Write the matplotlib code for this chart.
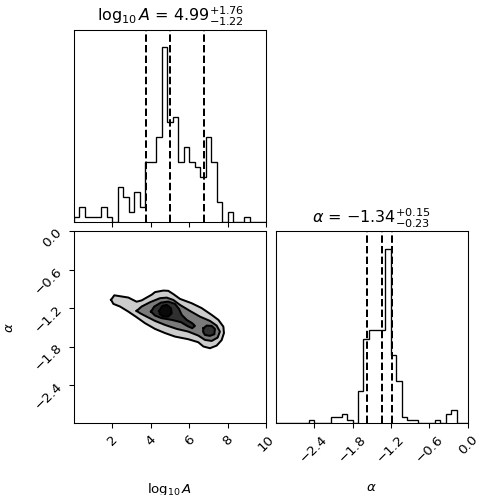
import numpy as np
import matplotlib
matplotlib.use('Agg')
import matplotlib.pyplot as plt

matplotlib.rcParams.update( {'font.size' : 10} )

# 1D marginals, 35 bins each (counts)
logA_range = (0.0, 10.0)
logA_counts = [1, 3, 1, 1, 1, 3, 1, 0, 7, 5, 2, 6, 3, 12, 12, 17, 35, 20, 21, 12,
               15, 12, 11, 9, 17, 12, 4, 0, 2, 0, 0, 1, 0, 0, 0]
logA_quantiles = [3.77, 4.99, 6.75]
logA_title = r"$\log_{10}A$ = $4.99_{-1.22}^{+1.76}$"

alpha_range = (-3.0, 0.0)
alpha_counts = [0, 0, 0, 0, 0, 0, 1, 0, 0, 0, 2, 2, 3, 1, 0, 10, 26, 29, 29, 29,
                54, 21, 13, 2, 1, 1, 0, 0, 0, 1, 0, 3, 4, 0, 0]
alpha_quantiles = [-1.57, -1.34, -1.19]
alpha_title = r"$\alpha$ = $-1.34_{-0.23}^{+0.15}$"

logA_ticks = [2, 4, 6, 8, 10]
alpha_ticks = [-2.4, -1.8, -1.2, -0.6, 0.0]

# 2D contours (log10A, alpha), outermost first
contour_0 = [(1.93, -1.07), (2.10, -1.00), (2.83, -1.035), (3.26, -1.10), (3.52, -1.08),
             (4.05, -0.99), (4.22, -0.95), (4.65, -0.926), (4.91, -0.93), (5.17, -0.98),
             (5.52, -1.056), (6.13, -1.124), (6.65, -1.20), (7.17, -1.306), (7.52, -1.384),
             (7.78, -1.49), (7.81, -1.59), (7.69, -1.70), (7.43, -1.786), (7.08, -1.827),
             (6.74, -1.80), (6.47, -1.733), (5.95, -1.686), (5.26, -1.645), (4.74, -1.59),
             (4.22, -1.525), (3.70, -1.436), (3.26, -1.342), (2.83, -1.255), (2.40, -1.176),
             (2.05, -1.134)]
contour_1 = [(3.26, -1.244), (3.52, -1.176), (3.96, -1.108), (4.48, -1.045), (4.83, -1.036),
             (5.17, -1.072), (5.52, -1.15), (6.04, -1.244), (6.56, -1.333), (7.08, -1.40),
             (7.43, -1.473), (7.60, -1.567), (7.48, -1.661), (7.17, -1.713), (6.82, -1.697),
             (6.47, -1.629), (5.95, -1.567), (5.35, -1.525), (4.74, -1.463), (4.22, -1.40),
             (3.78, -1.333), (3.44, -1.28)]
contour_2a = [(4.01, -1.255), (4.18, -1.176), (4.53, -1.114), (4.91, -1.098), (5.26, -1.134),
              (5.47, -1.213), (5.61, -1.306), (5.87, -1.384), (6.16, -1.436), (6.30, -1.478),
              (6.16, -1.514), (5.92, -1.483), (5.57, -1.42), (5.09, -1.384), (4.57, -1.358),
              (4.22, -1.317)]
contour_2b = [(6.74, -1.514), (6.91, -1.473), (7.17, -1.478), (7.34, -1.525), (7.31, -1.608),
              (7.08, -1.634), (6.82, -1.619), (6.72, -1.567)]
contour_3 = [(4.43, -1.244), (4.60, -1.166), (4.83, -1.15), (5.05, -1.202), (5.09, -1.28),
             (4.91, -1.333), (4.65, -1.333), (4.48, -1.296)]

W, H = 477.0, 495.0


def px_axes( fig, x0, y0, w, h ):
    return fig.add_axes( [x0 / W, 1 - (y0 + h) / H, w / W, h / H] )


def plot_marginal( ax, counts, rng, quantiles, title ):
    edges = np.linspace( rng[0], rng[1], len(counts) + 1 )
    centers = 0.5 * (edges[1:] + edges[:-1])
    ax.hist( centers, bins=edges, weights=counts, histtype='step', color='k' )
    for q in quantiles:
        ax.axvline( q, ls='dashed', color='k', lw=1.5 )
    ax.set_xlim( rng )
    ax.set_ylim( 0, 1.1 * max(counts) )
    ax.set_yticks( [] )
    ax.set_title( title, fontsize=12 )


def draw_contours( ax ):
    levels = [[contour_0], [contour_1], [contour_2a, contour_2b], [contour_3]]
    for i, polys in enumerate( levels ):
        for p in polys:
            xs, ys = zip( *p )
            ax.fill( xs, ys, color=(0, 0, 0, 0.2 * (i + 1)), lw=0 )
    for polys in levels:
        for p in polys:
            xs, ys = zip( *(p + p[:1]) )
            ax.plot( xs, ys, color='k', lw=1.5 )


fig = plt.figure( figsize=(W / 96, H / 96), dpi=96 )
ax_top = px_axes( fig, 74, 29.5, 192, 192 )
ax_2d = px_axes( fig, 74, 231.3, 192, 192 )
ax_right = px_axes( fig, 275.7, 231.3, 192, 192 )

plot_marginal( ax_top, logA_counts, logA_range, logA_quantiles, logA_title )
ax_top.set_xticks( logA_ticks )
ax_top.set_xticklabels( [] )

plot_marginal( ax_right, alpha_counts, alpha_range, alpha_quantiles, alpha_title )
ax_right.set_xticks( alpha_ticks )
for l in ax_right.get_xticklabels():
    l.set_rotation( 45 )
ax_right.set_xlabel( r"$\alpha$" )
ax_right.xaxis.set_label_coords( 0.5, -0.3 )

draw_contours( ax_2d )
ax_2d.set_xlim( logA_range )
ax_2d.set_ylim( alpha_range )
ax_2d.set_xticks( logA_ticks )
ax_2d.set_yticks( alpha_ticks )
for l in ax_2d.get_xticklabels():
    l.set_rotation( 45 )
for l in ax_2d.get_yticklabels():
    l.set_rotation( 45 )
ax_2d.set_xlabel( r"$\log_{10}A$" )
ax_2d.set_ylabel( r"$\alpha$" )
ax_2d.xaxis.set_label_coords( 0.5, -0.3 )
ax_2d.yaxis.set_label_coords( -0.3, 0.5 )

fig.savefig( 'out.png', dpi=96 )
